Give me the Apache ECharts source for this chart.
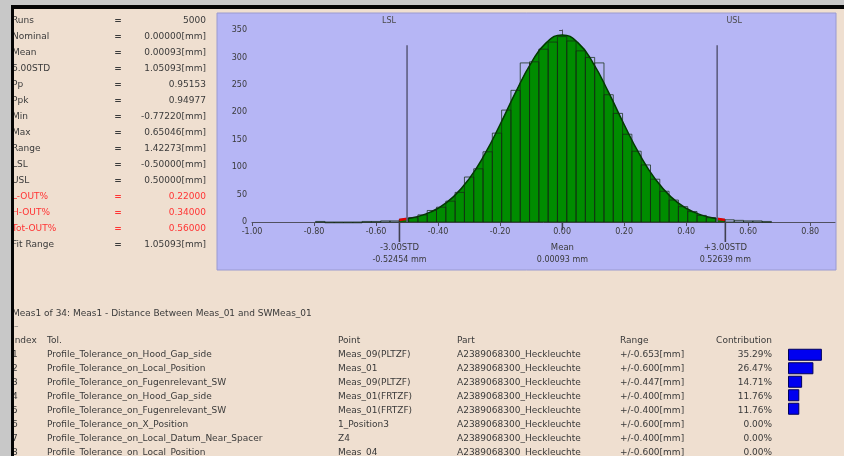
<!DOCTYPE html>
<html>
<head>
<meta charset="utf-8">
<script src="https://cdn.jsdelivr.net/npm/echarts@6/dist/echarts.min.js"></script>
<style>
  html, body { margin: 0; padding: 0; background: #c8c8c8; }
  #chart { width: 844px; height: 456px; }
</style>
</head>
<body>
<div id="chart"></div>
<script>
// histogram: bin centres [mm] and counts
const binWidth = 0.03;
const binCenters = [-0.78, -0.75, -0.72, -0.69, -0.66, -0.63, -0.60, -0.57, -0.54, -0.51,
  -0.48, -0.45, -0.42, -0.39, -0.36, -0.33, -0.30, -0.27, -0.24, -0.21,
  -0.18, -0.15, -0.12, -0.09, -0.06, -0.03, 0.00, 0.03, 0.06, 0.09,
  0.12, 0.15, 0.18, 0.21, 0.24, 0.27, 0.30, 0.33, 0.36, 0.39,
  0.42, 0.45, 0.48, 0.51, 0.54, 0.57, 0.60, 0.63, 0.66];
const binCounts = [1, 0, 0, 0, 0, 1, 1, 2, 2, 5,
  8, 13, 21, 27, 38, 54, 82, 97, 128, 162,
  204, 240, 290, 292, 315, 328, 338, 330, 312, 300,
  290, 232, 198, 160, 129, 104, 78, 56, 40, 28,
  19, 12, 8, 5, 4, 3, 2, 2, 1];

// fitted curve
const fitX = [-0.525, -0.50, -0.45, -0.40, -0.35, -0.30, -0.25, -0.20, -0.15, -0.10, -0.05, 0.00,
  0.05, 0.10, 0.15, 0.20, 0.25, 0.30, 0.35, 0.40, 0.45, 0.50, 0.525];
const fitY = [3.8, 5.8, 12.6, 25.1, 46.3, 78.7, 123.1, 177.7, 236.3, 289.7, 327.4, 341,
  327.4, 289.7, 236.3, 177.7, 123.1, 78.7, 46.3, 25.1, 12.6, 5.8, 3.8];

const limitValues = [-0.5, 0.5];
const limitNames = ['LSL', 'USL'];

const markerValues = [-0.52454, 0.00093, 0.52639];
const markerNames = ['-3.00STD', 'Mean', '+3.00STD'];
const markerTexts = ['-0.52454 mm', '0.00093 mm', '0.52639 mm'];

const statNames = ['Runs', 'Nominal', 'Mean', '6.00STD', 'Pp', 'Ppk', 'Min', 'Max', 'Range',
  'LSL', 'USL', 'L-OUT%', 'H-OUT%', 'Tot-OUT%', 'Fit Range'];
const statValues = ['5000', '0.00000[mm]', '0.00093[mm]', '1.05093[mm]', '0.95153', '0.94977',
  '-0.77220[mm]', '0.65046[mm]', '1.42273[mm]', '-0.50000[mm]', '0.50000[mm]',
  '0.22000', '0.34000', '0.56000', '1.05093[mm]'];
const statRed = [false, false, false, false, false, false, false, false, false, false, false,
  true, true, true, false];

const tableTitle = 'Meas1 of 34: Meas1 - Distance Between Meas_01 and SWMeas_01';
const tableHeaders = ['Index', 'Tol.', 'Point', 'Part', 'Range', 'Contribution'];
const tolIndex = ['1', '2', '3', '4', '5', '6', '7', '8'];
const tolNames = ['Profile_Tolerance_on_Hood_Gap_side', 'Profile_Tolerance_on_Local_Position',
  'Profile_Tolerance_on_Fugenrelevant_SW', 'Profile_Tolerance_on_Hood_Gap_side',
  'Profile_Tolerance_on_Fugenrelevant_SW', 'Profile_Tolerance_on_X_Position',
  'Profile_Tolerance_on_Local_Datum_Near_Spacer', 'Profile_Tolerance_on_Local_Position'];
const tolPoints = ['Meas_09(PLTZF)', 'Meas_01', 'Meas_09(PLTZF)', 'Meas_01(FRTZF)',
  'Meas_01(FRTZF)', '1_Position3', 'Z4', 'Meas_04'];
const tolParts = ['A2389068300_Heckleuchte', 'A2389068300_Heckleuchte', 'A2389068300_Heckleuchte',
  'A2389068300_Heckleuchte', 'A2389068300_Heckleuchte', 'A2389068300_Heckleuchte',
  'A2389068300_Heckleuchte', 'A2389068300_Heckleuchte'];
const tolRanges = ['+/-0.653[mm]', '+/-0.600[mm]', '+/-0.447[mm]', '+/-0.400[mm]',
  '+/-0.400[mm]', '+/-0.600[mm]', '+/-0.400[mm]', '+/-0.600[mm]'];
const tolContrib = [35.29, 26.47, 14.71, 11.76, 11.76, 0, 0, 0];

const FONT = 'DejaVu Sans';
const TXT = '#3a3a3a';

const chart = echarts.init(document.getElementById('chart'));

// static text + frame
const graphics = [
  { type: 'rect', shape: { x: 0, y: 0, width: 844, height: 456 }, style: { fill: '#efdfd0' }, z: -10 },
  { type: 'rect', shape: { x: 217, y: 13, width: 619, height: 257 }, style: { fill: '#b6b6f5', stroke: '#9a9ad0', lineWidth: 1 }, z: -9 }
];
statNames.forEach((n, i) => {
  const y = 21 + i * 16;
  const col = statRed[i] ? '#ff3333' : TXT;
  graphics.push({ type: 'text', x: 12, y: y, style: { text: n, fill: col, font: '9px ' + FONT, textVerticalAlign: 'middle' } });
  graphics.push({ type: 'text', x: 118, y: y, style: { text: '=', fill: col, font: 'bold 9px ' + FONT, textAlign: 'center', textVerticalAlign: 'middle' } });
  graphics.push({ type: 'text', x: 206, y: y, style: { text: statValues[i], fill: col, font: '9px ' + FONT, textAlign: 'right', textVerticalAlign: 'middle' } });
});
graphics.push({ type: 'text', x: 12, y: 314, style: { text: tableTitle, fill: TXT, font: '9px ' + FONT, textVerticalAlign: 'middle' } });
graphics.push({ type: 'text', x: 14, y: 327, style: { text: '–', fill: '#777', font: '9px ' + FONT, textVerticalAlign: 'middle' } });
const colX = [12, 47, 338, 457, 620, 772];
tableHeaders.forEach((h, c) => {
  graphics.push({ type: 'text', x: colX[c], y: 341, style: { text: h, fill: TXT, font: '9px ' + FONT, textAlign: c === 5 ? 'right' : 'left', textVerticalAlign: 'middle' } });
});
tolIndex.forEach((idx, r) => {
  const y = 355 + r * 14;
  const cells = [idx, tolNames[r], tolPoints[r], tolParts[r], tolRanges[r], tolContrib[r].toFixed(2) + '%'];
  cells.forEach((t, c) => {
    graphics.push({ type: 'text', x: colX[c], y: y, style: { text: t, fill: TXT, font: '9px ' + FONT, textAlign: c === 5 ? 'right' : 'left', textVerticalAlign: 'middle' } });
  });
});
// outer window frame
graphics.push({ type: 'rect', shape: { x: 0, y: 0, width: 844, height: 5 }, style: { fill: '#c8c8c8' }, z: 100 });
graphics.push({ type: 'rect', shape: { x: 0, y: 0, width: 11, height: 456 }, style: { fill: '#c8c8c8' }, z: 100 });
graphics.push({ type: 'rect', shape: { x: 11, y: 5, width: 833, height: 4 }, style: { fill: '#050505' }, z: 101 });
graphics.push({ type: 'rect', shape: { x: 11, y: 5, width: 3, height: 451 }, style: { fill: '#050505' }, z: 101 });

const lowFit = fitX.map((x, i) => [x, fitY[i]]).filter(p => p[0] <= limitValues[0]);
const highFit = fitX.map((x, i) => [x, fitY[i]]).filter(p => p[0] >= limitValues[1]);

const option = {
  animation: false,
  backgroundColor: '#efdfd0',
  graphic: graphics,
  grid: [
    { left: 252, top: 30, width: 583, height: 192 },
    { left: 788, top: 348, width: 48, height: 112 }
  ],
  xAxis: [
    {
      type: 'value', gridIndex: 0, min: -1.0, max: 0.88, interval: 0.2,
      splitLine: { show: false },
      axisLine: { lineStyle: { color: '#505060', width: 1 } },
      axisTick: { length: 4, lineStyle: { color: '#505060' } },
      axisLabel: {
        margin: 6, fontSize: 8, fontFamily: FONT, color: TXT, showMaxLabel: false,
        formatter: v => v.toFixed(2)
      }
    },
    { type: 'value', gridIndex: 1, min: 0, max: 50, show: false }
  ],
  yAxis: [
    {
      type: 'value', gridIndex: 0, min: 0, max: 350, interval: 50,
      splitLine: { show: false },
      axisLine: { show: true, lineStyle: { color: '#505060', width: 1 } },
      axisTick: { show: true, length: 3, lineStyle: { color: '#505060' } },
      axisLabel: { margin: 5, fontSize: 8, fontFamily: FONT, color: TXT }
    },
    { type: 'category', gridIndex: 1, data: tolIndex, inverse: true, show: false }
  ],
  series: [
    {
      name: 'fit', type: 'line', xAxisIndex: 0, yAxisIndex: 0, z: 2,
      smooth: true, showSymbol: false,
      data: fitX.map((x, i) => [x, fitY[i]]),
      lineStyle: { color: '#003a00', width: 1.5 },
      areaStyle: { color: '#008c00', opacity: 1 }
    },
    {
      name: 'lowOut', type: 'line', xAxisIndex: 0, yAxisIndex: 0, z: 4,
      showSymbol: false, data: lowFit,
      lineStyle: { color: '#e00000', width: 2.5 }
    },
    {
      name: 'highOut', type: 'line', xAxisIndex: 0, yAxisIndex: 0, z: 4,
      showSymbol: false, data: highFit,
      lineStyle: { color: '#e00000', width: 2.5 }
    },
    {
      name: 'hist', type: 'custom', xAxisIndex: 0, yAxisIndex: 0, z: 3,
      data: binCenters.map((x, i) => [x, binCounts[i]]),
      renderItem: (params, api) => {
        const x = api.value(0), c = api.value(1);
        const w = api.size([binWidth, 0])[0];
        const top = api.coord([x - binWidth / 2, c]);
        const base = api.coord([x - binWidth / 2, 0]);
        return {
          type: 'rect',
          shape: { x: top[0], y: top[1], width: w, height: Math.max(base[1] - top[1], 0.8) },
          style: { fill: 'rgba(0,0,0,0)', stroke: 'rgba(20,45,20,0.75)', lineWidth: 1 }
        };
      }
    },
    {
      name: 'limits', type: 'custom', xAxisIndex: 0, yAxisIndex: 0, z: 5, clip: false,
      data: limitValues.map((v, i) => [v, limitNames[i]]),
      renderItem: (params, api) => {
        const v = api.value(0);
        const b = api.coord([v, 0]);
        const t = api.coord([v, 322]);
        const dx = params.dataIndex === 0 ? -18 : 17;
        return {
          type: 'group',
          children: [
            { type: 'line', shape: { x1: b[0], y1: b[1], x2: t[0], y2: t[1] }, style: { stroke: '#5e5e80', lineWidth: 1.6 } },
            { type: 'text', x: t[0] + dx, y: t[1] - 24, style: { text: limitNames[params.dataIndex], fill: '#4a4a4a', font: '8px ' + FONT, textAlign: 'center', textVerticalAlign: 'middle' } }
          ]
        };
      }
    },
    {
      name: 'markers', type: 'custom', xAxisIndex: 0, yAxisIndex: 0, z: 5, clip: false,
      data: markerValues.map((v, i) => [v, markerNames[i]]),
      renderItem: (params, api) => {
        const i = params.dataIndex;
        const b = api.coord([api.value(0), 0]);
        const len = i === 1 ? 8 : 20;
        return {
          type: 'group',
          children: [
            { type: 'line', shape: { x1: b[0], y1: b[1], x2: b[0], y2: b[1] + len }, style: { stroke: '#404050', lineWidth: 1.6 } },
            { type: 'text', x: b[0], y: b[1] + 26, style: { text: markerNames[i], fill: TXT, font: '8.5px ' + FONT, textAlign: 'center', textVerticalAlign: 'middle' } },
            { type: 'text', x: b[0], y: b[1] + 38, style: { text: markerTexts[i], fill: TXT, font: '8px ' + FONT, textAlign: 'center', textVerticalAlign: 'middle' } }
          ]
        };
      }
    },
    {
      name: 'contribution', type: 'bar', xAxisIndex: 1, yAxisIndex: 1,
      data: tolContrib.map(v => (v > 0 ? v : '-')), barWidth: 12,
      itemStyle: { color: '#0000f0', borderColor: '#00005a', borderWidth: 1 }
    }
  ]
};
chart.setOption(option);
</script>
</body>
</html>
